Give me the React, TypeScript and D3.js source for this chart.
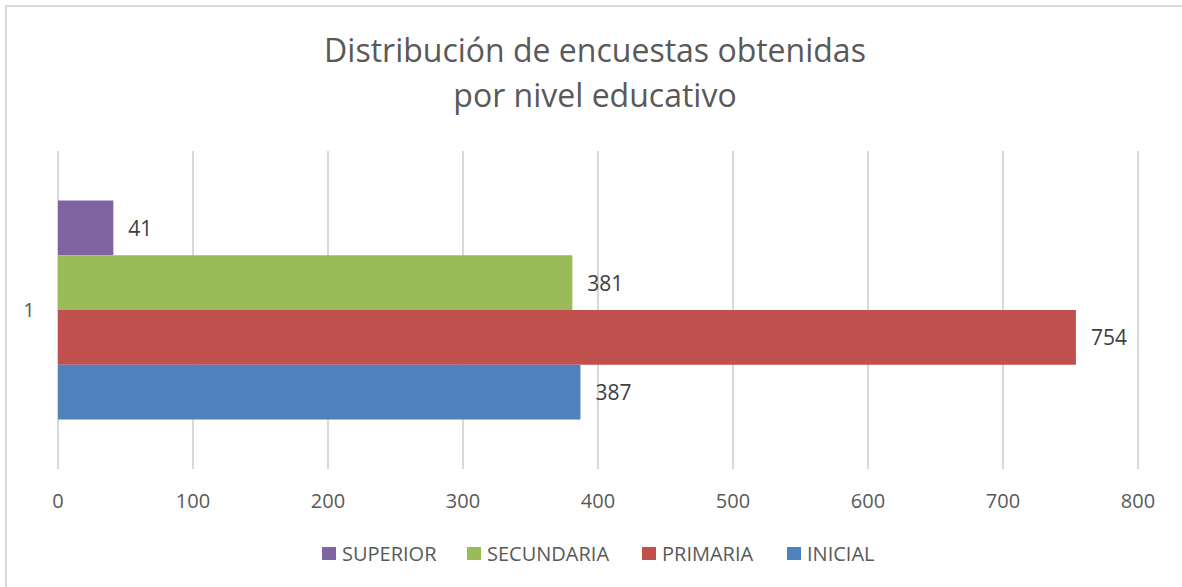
import React, { useEffect, useRef } from "react";
import * as d3 from "d3";

const W = 1182;
const H = 587;

const titleLines = ["Distribución de encuestas obtenidas", "por nivel educativo"];
const category = "1";
// drawn top to bottom
const seriesNames = ["SUPERIOR", "SECUNDARIA", "PRIMARIA", "INICIAL"];
const seriesValues = [41, 381, 754, 387];
const seriesColors = ["#8064a2", "#9bbb59", "#c0504d", "#4f81bd"];
const xTicks = [0, 100, 200, 300, 400, 500, 600, 700, 800];

const FONT = "'Open Sans', 'Noto Sans', sans-serif";

function drawChart(el: SVGSVGElement) {
  const svg = d3.select(el);
  svg.selectAll("*").remove();

  const margin = { top: 151, right: 44, bottom: 118, left: 58 };
  const plotW = W - margin.left - margin.right;
  const plotH = H - margin.top - margin.bottom;

  // chart frame
  svg.append("rect")
    .attr("x", 6).attr("y", 6)
    .attr("width", W + 20).attr("height", H + 20)
    .attr("fill", "#fff")
    .attr("stroke", "#d9d9d9").attr("stroke-width", 2);

  // title
  svg.append("text")
    .attr("x", 595).attr("y", 62)
    .attr("text-anchor", "middle")
    .attr("font-family", FONT).attr("font-size", 32)
    .attr("fill", "#595959")
    .selectAll("tspan")
    .data(titleLines)
    .enter().append("tspan")
    .attr("x", 595)
    .attr("dy", (d, i) => (i === 0 ? 0 : 45))
    .text(d => d);

  const g = svg.append("g").attr("transform", `translate(${margin.left},${margin.top})`);

  const x = d3.scaleLinear().domain([0, 800]).range([0, plotW]);

  const yCat = d3.scaleBand().domain([category]).range([0, plotH]).paddingInner(0).paddingOuter(0.226);
  const yBar = d3.scaleBand().domain(seriesNames).range([0, yCat.bandwidth()]);

  // gridlines
  g.selectAll(".grid")
    .data(xTicks)
    .enter().append("line")
    .attr("x1", d => x(d)).attr("x2", d => x(d))
    .attr("y1", 0).attr("y2", plotH)
    .attr("stroke", "#d9d9d9").attr("stroke-width", 2);

  // x tick labels
  g.selectAll(".xlab")
    .data(xTicks)
    .enter().append("text")
    .attr("x", d => x(d)).attr("y", plotH + 39)
    .attr("text-anchor", "middle")
    .attr("font-family", FONT).attr("font-size", 20)
    .attr("fill", "#595959")
    .text(d => d);

  // category label
  g.append("text")
    .attr("x", -29).attr("y", (yCat(category) as number) + yCat.bandwidth() / 2 + 7)
    .attr("text-anchor", "middle")
    .attr("font-family", FONT).attr("font-size", 20)
    .attr("fill", "#595959")
    .text(category);

  const y0 = yCat(category) as number;
  const bars = g.selectAll(".bar")
    .data(seriesNames)
    .enter().append("g");

  bars.append("rect")
    .attr("x", x(0))
    .attr("y", d => y0 + (yBar(d) as number))
    .attr("width", (d, i) => x(seriesValues[i]) - x(0))
    .attr("height", yBar.bandwidth())
    .attr("fill", (d, i) => seriesColors[i]);

  bars.append("text")
    .attr("x", (d, i) => x(seriesValues[i]) + 15)
    .attr("y", d => y0 + (yBar(d) as number) + yBar.bandwidth() / 2 + 8)
    .attr("font-family", FONT).attr("font-size", 21)
    .attr("fill", "#404040")
    .text((d, i) => seriesValues[i]);

  // legend
  const legendX = [322, 467, 642, 787];
  const legend = svg.append("g");
  seriesNames.forEach((name, i) => {
    legend.append("rect")
      .attr("x", legendX[i]).attr("y", 547)
      .attr("width", 14).attr("height", 13)
      .attr("fill", seriesColors[i]);
    legend.append("text")
      .attr("x", legendX[i] + 20).attr("y", 561)
      .attr("font-family", FONT).attr("font-size", 20)
      .attr("fill", "#595959")
      .text(name);
  });
}

export default function App() {
  const ref = useRef<SVGSVGElement>(null);
  useEffect(() => {
    if (ref.current) drawChart(ref.current);
  }, []);
  return (
    <svg
      ref={ref}
      width={W}
      height={H}
      style={{ position: "absolute", left: 0, top: 0, background: "#fff" }}
    />
  );
}
